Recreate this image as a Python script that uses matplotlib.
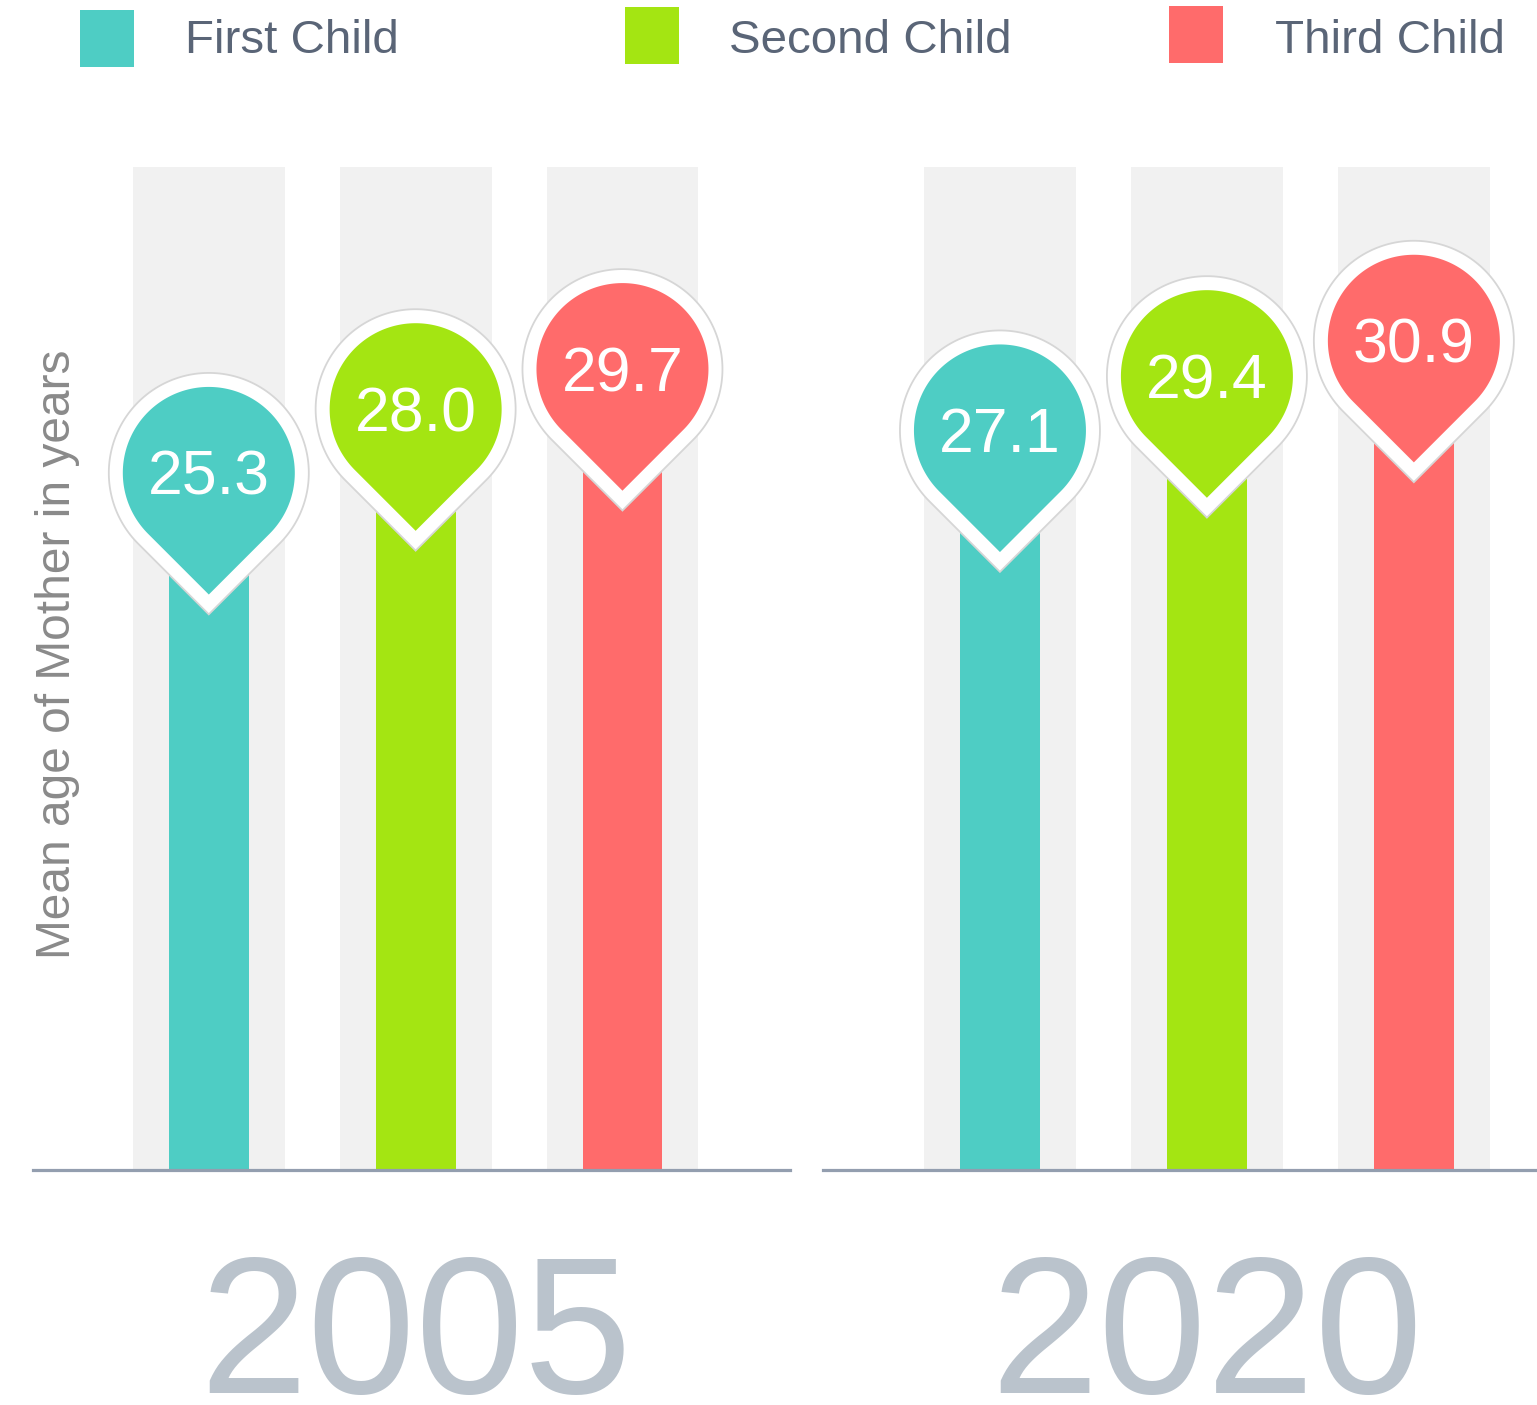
import numpy as np
import matplotlib
matplotlib.use("Agg")
import matplotlib.pyplot as plt
from matplotlib.patches import Polygon, Rectangle
from matplotlib.transforms import ScaledTranslation

plt.rcParams['font.family'] = ['Liberation Sans', 'DejaVu Sans']

# data
years = ['2005', '2020']
children = ['First Child', 'Second Child', 'Third Child']
colors = ['#4ECDC4', '#A4E512', '#FF6B6B']
ages_2005 = [25.3, 28.0, 29.7]
ages_2020 = [27.1, 29.4, 30.9]
ylabel = 'Mean age of Mother in years'

W, H = 1537, 1405
YMAX = 42.5


def fx(px):
    return px / W


def fy(py):
    return 1 - py / H


def pin_verts(r, cy):
    # circle with a 45 degree point underneath (map-pin shape)
    t = np.radians(np.linspace(-45, 225, 160))
    pts = np.column_stack([r * np.cos(t), cy + r * np.sin(t)])
    tip = [[0, cy - r * np.sqrt(2)]]
    return np.vstack([pts, tip])


fig = plt.figure(figsize=(W / 100, H / 100), dpi=100)
fig.patch.set_facecolor('white')

ax_l = fig.add_axes([fx(33), fy(1170), (790 - 33) / W, (1170 - 167) / H])
ax_r = fig.add_axes([fx(823), fy(1170), (1537 - 823) / W, (1170 - 167) / H])
panels = [(ax_l, ages_2005, years[0], (-0.85, 2.81)),
          (ax_r, ages_2020, years[1], (-0.855, 2.595))]

outer = pin_verts(100, 100)
inner = pin_verts(86, 100)

for ax, vals, year, xl in panels:
    pos = np.arange(len(vals))
    ax.set_xlim(*xl)
    ax.set_ylim(0, YMAX)
    ax.bar(pos, YMAX, width=0.734, color='#F1F1F1', zorder=1)
    ax.bar(pos, vals, width=0.386, color=colors, zorder=2)
    ax.axhline(0, color='#939EAF', lw=2.3, zorder=3, clip_on=False)
    for x, v, c in zip(pos, vals, colors):
        tr = ScaledTranslation(x, v, ax.transData)
        ax.add_patch(Polygon(outer, closed=True, facecolor='white',
                             edgecolor='#D6D6D6', lw=1.3, transform=tr,
                             zorder=4, clip_on=False))
        ax.add_patch(Polygon(inner, closed=True, facecolor=c, edgecolor='none',
                             transform=tr, zorder=5, clip_on=False))
        ax.annotate(f'{v:.1f}', xy=(x, v), xytext=(0, 78),
                    textcoords='offset pixels', ha='center', va='baseline',
                    fontsize=45, color='white', zorder=6, annotation_clip=False)
    ax.annotate(year, xy=(1, 0), xytext=(0, -(1393 - 1170)),
                textcoords='offset pixels', ha='center', va='baseline',
                fontsize=140, color='#BAC3CC', annotation_clip=False)
    for s in ax.spines.values():
        s.set_visible(False)
    ax.set_xticks([])
    ax.set_yticks([])
    ax.patch.set_alpha(0)

# legend across the top
legend_sq = [(80, 10), (625, 7), (1169, 6)]
legend_tx = [185, 729, 1275]
for (sx, sy), tx, name, c in zip(legend_sq, legend_tx, children, colors):
    fig.add_artist(Rectangle((fx(sx), fy(sy + 57)), 54 / W, 57 / H,
                             transform=fig.transFigure, facecolor=c,
                             edgecolor='none'))
    fig.text(fx(tx), fy(53), name, fontsize=34.2, color='#5A6577', va='baseline')

fig.text(fx(70), fy(654), ylabel, rotation=90, rotation_mode='anchor',
         ha='center', va='baseline', fontsize=34.5, color='#8A8A8A')

fig.savefig('out.png', dpi=100, facecolor='white')
